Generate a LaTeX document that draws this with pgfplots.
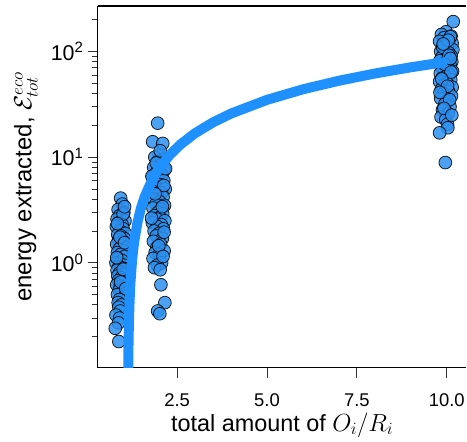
\documentclass[border=0pt]{standalone}
\usepackage{pgfplots}
\pgfplotsset{compat=1.18}
\usepackage{fontspec}
\setmainfont{Liberation Sans}
\definecolor{dodger}{RGB}{30,144,255}
\definecolor{ptfill}{RGB}{45,145,240}
\begin{document}
\begin{tikzpicture}
\begin{axis}[
  name=ax,
  scale only axis,
  width=369bp, height=362bp,
  ymode=log,
  xmin=0.297, xmax=10.547,
  ymin=0.102, ymax=270,
  axis lines=left,
  axis line style={line width=1.1bp, -},
  xtick={2.5,5,7.5,10},
  xticklabels={2.5,5.0,7.5,10.0},
  ytick={1,10,100},
  minor ytick={0.2,0.3,0.4,0.5,0.6,0.7,0.8,0.9,2,3,4,5,6,7,8,9,20,30,40,50,60,70,80,90,200},
  yticklabels={10\textsuperscript{0},10\textsuperscript{1},10\textsuperscript{2}},
  tick align=outside,
  major tick length=10bp,
  minor tick length=6bp,
  tick style={line width=0.9bp, black!80},
  x tick label style={font=\fontsize{18.5}{20}\selectfont, inner sep=0pt, yshift=-16bp},
  y tick label style={font=\fontsize{21.5}{23}\selectfont, xshift=-1bp},
  xlabel={total amount of $O_i/R_i$},
  ylabel={energy extracted, $\mathcal{E}^{eco}_{tot}$},
  xlabel style={font=\fontsize{23.5}{26}\selectfont, at={(axis description cs:0.5,0)}, anchor=north, yshift=-45bp, inner sep=0pt},
  ylabel style={font=\fontsize{24}{26}\selectfont, at={(axis description cs:0,0.5)}, anchor=north, yshift=84bp, inner sep=0pt},
  /pgf/number format/assume math mode=true,
  clip mode=individual,
]
\addplot[only marks, mark=*, mark size=6.4bp, mark options={fill=ptfill, draw=black, line width=0.8bp, opacity=0.85}] table {
x y
0.93 4.1
0.98 3.6
0.86 3.2
1.02 3.0
0.90 2.8
0.95 2.7
0.83 2.6
1.05 2.5
0.88 2.4
0.97 2.3
0.81 2.2
1.00 2.1
0.92 2.0
1.06 1.9
0.85 1.85
0.94 1.8
1.03 1.7
0.87 1.65
0.99 1.6
0.82 1.5
0.96 1.45
1.07 1.4
0.89 1.35
1.01 1.3
0.84 1.25
0.93 1.2
1.04 1.15
0.86 1.1
0.97 1.05
0.80 1.0
0.91 0.98
1.02 0.95
0.88 0.92
0.95 0.9
1.06 0.88
0.83 0.85
0.99 0.82
0.90 0.8
1.03 0.78
0.85 0.75
0.94 0.72
1.05 0.7
0.87 0.68
0.98 0.65
0.82 0.62
0.92 0.6
1.01 0.58
0.89 0.55
0.96 0.52
0.84 0.5
1.04 0.48
0.90 0.45
0.86 0.42
0.95 0.4
0.88 0.38
0.92 0.35
0.80 0.32
0.90 0.30
0.87 0.27
0.78 0.24
0.88 0.18
1.00 2.9
0.84 2.35
0.91 1.75
1.04 1.55
0.82 1.12
1.00 0.87
0.93 0.66
1.07 0.57
1.04 3.4
1.96 21
1.82 14
2.10 13.5
2.00 10.5
1.88 10
2.12 9.5
1.95 9
2.05 8.5
1.85 8
2.15 7.6
2.00 7.2
1.90 7
2.08 6.8
1.82 6.5
1.97 6.2
2.13 6
1.87 5.8
2.03 5.5
1.93 5.2
2.17 5
1.80 4.8
2.07 4.6
1.95 4.4
2.11 4.2
1.85 4
2.01 3.8
1.91 3.6
2.15 3.5
1.83 3.3
2.05 3.2
1.97 3.0
2.10 2.9
1.88 2.8
2.02 2.7
1.93 2.6
2.16 2.5
1.81 2.4
2.06 2.3
1.96 2.2
2.12 2.1
1.86 2.0
2.00 1.9
1.92 1.8
2.09 1.7
1.84 1.6
2.04 1.5
1.94 1.4
2.14 1.3
1.89 1.25
2.01 1.2
1.83 1.1
2.07 1.0
1.95 0.95
1.87 0.9
2.03 0.86
2.05 0.62
2.16 0.42
1.96 0.35
2.02 0.33
2.18 7.8
1.80 6.6
2.13 5.4
1.89 4.5
2.09 3.4
1.79 2.65
2.14 1.95
1.99 1.45
2.11 1.15
2.03 11.5
1.92 8.8
10.18 192
9.98 154
9.85 145
10.12 140
9.92 135
10.08 130
9.80 125
10.15 120
9.95 116
10.02 112
9.88 108
10.17 104
9.83 100
10.06 97
9.93 94
10.12 91
9.86 88
10.00 85
9.81 82
10.14 80
9.96 78
10.09 75
9.84 72
10.03 70
9.90 68
10.16 65
9.82 62
10.07 60
9.97 58
9.87 56
10.11 54
9.80 52
10.01 50
9.93 48
10.15 46
9.85 44
10.05 42
9.91 40
10.13 38
9.83 36
10.00 34
9.95 32
10.09 30
9.88 28
10.04 26
9.84 24
9.97 22.7
10.02 20.5
10.03 19
9.80 17
9.96 8.9
10.10 138
9.89 110
10.06 92
9.94 76
10.12 64
9.86 55
10.02 47
9.81 41
10.08 35
9.92 29
10.14 25
10.04 128
9.90 118
10.10 86
};
\addplot[dodger, line width=10bp, line cap=butt, no marks] table {
x y
1.14 0.090
1.145 0.135
1.15 0.18
1.16 0.27
1.18 0.45
1.20 0.63
1.25 1.08
1.30 1.53
1.40 2.44
1.50 3.34
1.60 4.24
1.80 6.04
2.00 7.85
2.30 10.55
2.60 13.26
3.00 16.87
3.50 21.38
4.00 25.89
5.00 34.91
6.00 43.93
7.00 52.95
8.00 61.97
9.00 70.99
10.00 80.00
};
\end{axis}
\draw[line width=1.1bp] (ax.north west) -- (ax.north east);
\path ([shift={(-98bp,-74bp)}]ax.south west) rectangle ([shift={(0bp,6bp)}]ax.north east);
\end{tikzpicture}
\end{document}
